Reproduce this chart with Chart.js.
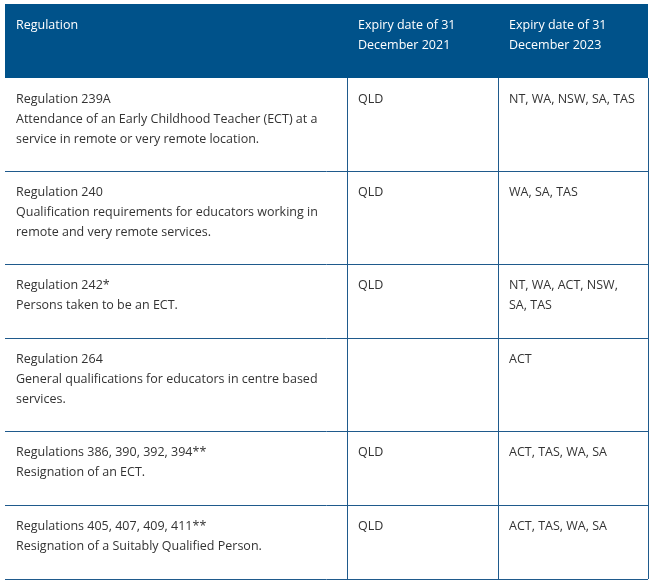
<!DOCTYPE html>
<html>
<head>
<meta charset="utf-8">
<script src="https://cdn.jsdelivr.net/npm/chart.js@4"></script>
<style>
  html, body { margin:0; padding:0; background:#fff; }
  #wrap { width:655px; height:584px; position:relative; }
</style>
</head>
<body>
<div id="wrap"><canvas id="tbl"></canvas></div>
<script>
// table content, one entry per line as wrapped in the original
const headers = [['Regulation'], ['Expiry date of 31', 'December 2021'], ['Expiry date of 31', 'December 2023']];
const regulations = [
    ['Regulation 239A', 'Attendance of an Early Childhood Teacher (ECT) at a', 'service in remote or very remote location.'],
    ['Regulation 240', 'Qualification requirements for educators working in', 'remote and very remote services.'],
    ['Regulation 242*', 'Persons taken to be an ECT.'],
    ['Regulation 264', 'General qualifications for educators in centre based', 'services.'],
    ['Regulations 386, 390, 392, 394**', 'Resignation of an ECT.'],
    ['Regulations 405, 407, 409, 411**', 'Resignation of a Suitably Qualified Person.']
];
const expiry2021 = [['QLD'], ['QLD'], ['QLD'], [], ['QLD'], ['QLD']];
const expiry2023 = [['NT, WA, NSW, SA, TAS'], ['WA, SA, TAS'], ['NT, WA, ACT, NSW,', 'SA, TAS'], ['ACT'], ['ACT, TAS, WA, SA'], ['ACT, TAS, WA, SA']];

const colEdges = [5, 347, 498, 648];
const LINE = 20;

// row boundaries follow from how many text lines each row holds
const rows = [headers].concat(regulations.map((r, i) => [r, expiry2021[i], expiry2023[i]]));
const rowEdges = [4];
rows.forEach((r, i) => {
    const n = Math.max(...r.map(c => c.length), 2);
    rowEdges.push(rowEdges[i] + (i === 0 ? 74 : 36 + n * 19));
});

const tablePlugin = {
    id: 'tablePlugin',
    afterDraw(chart) {
        const { ctx, scales: { x, y } } = chart;
        const px = v => x.getPixelForValue(v), py = v => y.getPixelForValue(v);
        ctx.save();
        // header
        ctx.fillStyle = '#00528a';
        ctx.fillRect(px(colEdges[0]), py(rowEdges[0]), px(colEdges[3]) - px(colEdges[0]), py(rowEdges[1]) - py(rowEdges[0]));
        // grid lines
        ctx.strokeStyle = '#1f5a8c';
        ctx.lineWidth = 1;
        for (let i = 2; i < rowEdges.length; i++) {
            ctx.beginPath();
            ctx.moveTo(px(colEdges[0]), Math.round(py(rowEdges[i])) + 0.5);
            ctx.lineTo(px(colEdges[3]), Math.round(py(rowEdges[i])) + 0.5);
            ctx.stroke();
        }
        [1, 2, 3].forEach(c => {
            ctx.beginPath();
            ctx.moveTo(Math.round(px(colEdges[c])) + 0.5, py(rowEdges[1]));
            ctx.lineTo(Math.round(px(colEdges[c])) + 0.5, py(rowEdges[rowEdges.length - 1]));
            ctx.stroke();
        });
        // text
        ctx.font = '12.5px "Open Sans", sans-serif';
        ctx.textBaseline = 'top';
        rows.forEach((r, i) => {
            ctx.fillStyle = i === 0 ? '#ffffff' : '#333333';
            r.forEach((cell, c) => {
                cell.forEach((line, k) => {
                    ctx.fillText(line, px(colEdges[c]) + 11, py(rowEdges[i]) + 15 + k * LINE);
                });
            });
        });
        ctx.restore();
    }
};

new Chart(document.getElementById('tbl'), {
    type: 'scatter',
    data: { datasets: [{ data: [] }] },
    options: {
        responsive: true,
        maintainAspectRatio: false,
        animation: false,
        layout: { padding: 0 },
        plugins: { legend: { display: false }, tooltip: { enabled: false } },
        scales: {
            x: { type: 'linear', min: 0, max: 655, display: false },
            y: { type: 'linear', min: 0, max: 584, reverse: true, display: false }
        }
    },
    plugins: [tablePlugin]
});
</script>
</body>
</html>
